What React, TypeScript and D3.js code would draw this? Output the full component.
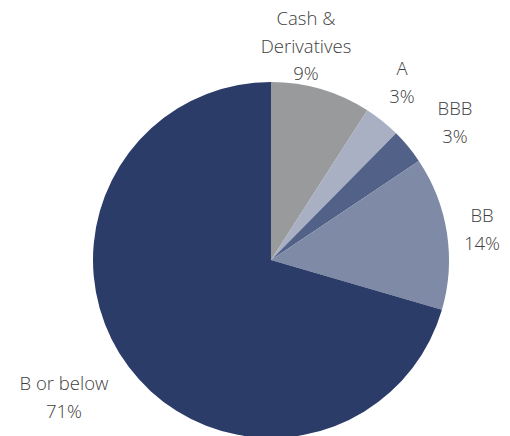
import React from "react";
import * as d3 from "d3";

const categories = ["Cash & Derivatives", "A", "BBB", "BB", "B or below"];
const values = [9.1, 3.3, 3.2, 13.9, 70.5];
const valueLabels = ["9%", "3%", "3%", "14%", "71%"];
const colors = ["#999a9b", "#a9b0c3", "#526188", "#7f8aa7", "#2b3c69"];
const labelLines = [["Cash &", "Derivatives", "9%"], ["A", "3%"], ["BBB", "3%"], ["BB", "14%"], ["B or below", "71%"]];
const labelPos: [number, number][] = [[306, 25], [402, 75], [455, 115], [482, 222], [64, 390]];
const titleText = "Credit Summary";

export default function App() {
  const W = 510, H = 436;
  const cx = 271, cy = 260, r = 178;
  const pie = d3.pie<number>().value((d) => d).sort(null).startAngle(0).endAngle(2 * Math.PI);
  const arcs = pie(values);
  const arc = d3.arc<d3.PieArcDatum<number>>().innerRadius(0).outerRadius(r);
  return (
    <svg width={W} height={H} style={{ position: "absolute", left: 0, top: 0 }}>
      <rect width={W} height={H} fill="#fff" />
      <text x={139} y={-7} textAnchor="end" fontFamily="'Open Sans', sans-serif" fontWeight={700} fontSize={26} fill="#2b3c69">{titleText}</text>
      <g transform={`translate(${cx},${cy})`}>
        {arcs.map((a, i) => (
          <path key={categories[i]} d={arc(a) || ""} fill={colors[i]} />
        ))}
      </g>
      {labelLines.map((lines, i) => (
        <text key={i} textAnchor="middle" fontFamily="'Open Sans', sans-serif" fontSize={18.5} fill="#404040" fontWeight={300}>
          {lines.map((l, j) => (
            <tspan key={j} x={labelPos[i][0]} y={labelPos[i][1] + j * 27.5}>{j === lines.length - 1 ? valueLabels[i] : l}</tspan>
          ))}
        </text>
      ))}
    </svg>
  );
}
